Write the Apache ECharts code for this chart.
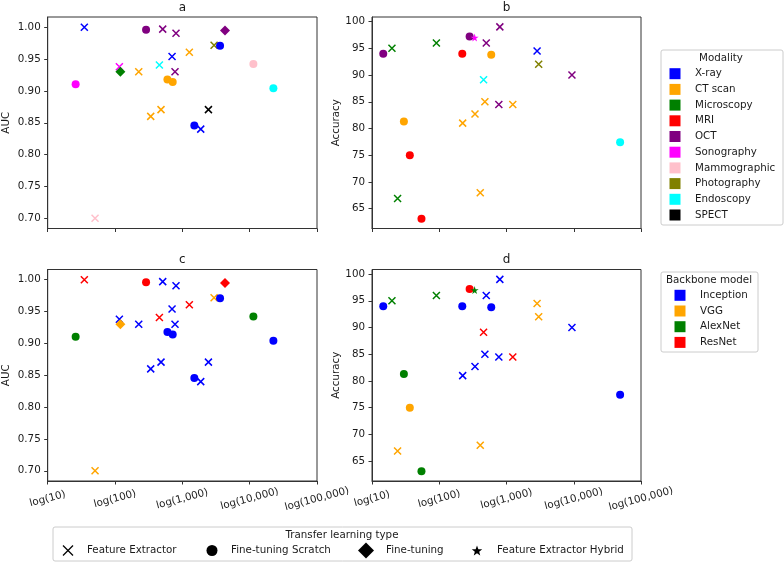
<!DOCTYPE html>
<html>
<head>
<meta charset="utf-8">
<script src="https://cdn.jsdelivr.net/npm/echarts@6/dist/echarts.min.js"></script>
<style>
html,body{margin:0;padding:0;background:#fff;}
#chart{width:784px;height:563px;}
</style>
</head>
<body>
<div id="chart"></div>
<script>
// ---------- DATA ----------
// Panels a & c : AUC vs dataset size (log)
const aucSize = [35, 289, 511, 805, 4300, 2960, 3630, 1270, 703, 456, 11350, 116, 120, 225, 778, 600, 719, 26, 22500, 2440, 482, 339, 1507, 1875, 50.5];
const aucValue = [1.000, 0.996, 0.997, 0.9905, 0.9947, 0.9717, 0.971, 0.9607, 0.954, 0.9408, 0.9423, 0.938, 0.930, 0.930, 0.930, 0.918, 0.914, 0.9105, 0.904, 0.8706, 0.8706, 0.860, 0.8455, 0.840, 0.700];
const aucModality = ['X-ray','OCT','OCT','OCT','OCT','Photography','X-ray','CT scan','X-ray','Endoscopy','Mammographic','Sonography','Microscopy','CT scan','OCT','CT scan','CT scan','Sonography','Endoscopy','SPECT','CT scan','CT scan','X-ray','X-ray','Mammographic'];
const aucBackbone = ['ResNet','ResNet','Inception','Inception','ResNet','VGG','Inception','ResNet','Inception','ResNet','AlexNet','Inception','VGG','Inception','Inception','Inception','Inception','AlexNet','Inception','Inception','Inception','Inception','Inception','Inception','VGG'];
const aucType = ['FE','FTS','FE','FE','FT','FE','FTS','FE','FE','FE','FTS','FE','FT','FE','FE','FTS','FTS','FTS','FTS','FE','FE','FE','FTS','FE','FE'];

// Panels b & d : Accuracy vs dataset size (log)
const accSize = [14.7, 19.8, 90.7, 283, 336, 796, 500, 220, 593, 2850, 3010, 9400, 456, 477, 769, 1240, 340, 223, 29.8, 48900, 36.5, 24, 407, 54.4];
const accValue = [94.0, 95.0, 96.0, 97.2, 97.0, 99.0, 96.0, 94.0, 93.8, 94.5, 92.0, 90.0, 89.1, 85.0, 84.5, 84.5, 82.7, 81.0, 81.3, 77.45, 75.0, 66.9, 68.0, 63.1];
const accModality = ['OCT','Microscopy','Microscopy','OCT','Sonography','OCT','OCT','MRI','CT scan','X-ray','Photography','OCT','Endoscopy','CT scan','OCT','CT scan','CT scan','CT scan','CT scan','Endoscopy','MRI','Microscopy','CT scan','MRI'];
const accBackbone = ['Inception','AlexNet','AlexNet','ResNet','AlexNet','Inception','Inception','Inception','Inception','VGG','VGG','Inception','ResNet','Inception','Inception','ResNet','Inception','Inception','AlexNet','Inception','VGG','VGG','VGG','AlexNet'];
const accType = ['FTS','FE','FE','FTS','FEH','FE','FE','FTS','FTS','FE','FE','FE','FE','FE','FE','FE','FE','FE','FTS','FTS','FTS','FE','FE','FTS'];

const xTicks = [10, 100, 1000, 10000, 100000];
const aucTicks = [0.70, 0.75, 0.80, 0.85, 0.90, 0.95, 1.00];
const accTicks = [65, 70, 75, 80, 85, 90, 95, 100];

const modalityNames = ['X-ray','CT scan','Microscopy','MRI','OCT','Sonography','Mammographic','Photography','Endoscopy','SPECT'];
const backboneNames = ['Inception','VGG','AlexNet','ResNet'];
const typeCodes = ['FE','FTS','FT','FEH'];
const typeNames = ['Feature Extractor','Fine-tuning Scratch','Fine-tuning','Feature Extractor Hybrid'];
const panelTitles = ['a','b','c','d'];

// ---------- STYLES ----------
const modalityColors = {'X-ray':'#0000ff','CT scan':'#ffa500','Microscopy':'#008000','MRI':'#ff0000','OCT':'#800080','Sonography':'#ff00ff','Mammographic':'#ffc0cb','Photography':'#808000','Endoscopy':'#00ffff','SPECT':'#000000'};
const backboneColors = {'Inception':'#0000ff','VGG':'#ffa500','AlexNet':'#008000','ResNet':'#ff0000'};
const STAR = 'path://M50,0L61,35L98,35L68,57L79,91L50,70L21,91L32,57L2,35L39,35Z';
const SYM = {
  FE:  {symbol:'path://M0,0L10,10M10,0L0,10', size:7, stroke:true},
  FTS: {symbol:'circle', size:8},
  FT:  {symbol:'diamond', size:10},
  FEH: {symbol:STAR, size:8}
};
const FONT = '"DejaVu Sans", sans-serif';
const TXT = '#1a1a1a';
const AX = '#333333';

function fmtLog(v){
  return 'log(' + String(Math.round(v)).replace(/\B(?=(\d{3})+(?!\d))/g, ',') + ')';
}

function buildSeries(xs, ys, cats, types, colorMap, gi){
  const data = xs.map((x, i) => {
    const c = colorMap[cats[i]];
    const s = SYM[types[i]];
    return {
      value: [x, ys[i]],
      symbol: s.symbol,
      symbolSize: s.size,
      itemStyle: s.stroke ? {color:'none', borderColor:c, borderWidth:1.5, opacity:1} : {color:c, borderWidth:0, opacity:1}
    };
  });
  return {type:'scatter', xAxisIndex:gi, yAxisIndex:gi, data, animation:false, silent:true,
    itemStyle:{opacity:1}, emphasis:{disabled:true}};
}

const grids = [
  {left:47.7, top:17, width:269.3, height:211.5},
  {left:372, top:17, width:269, height:211.5},
  {left:47.7, top:269.5, width:269.3, height:211.5},
  {left:372, top:269.5, width:269, height:211.5}
].map(g => Object.assign({show:true, borderColor:AX, borderWidth:1, backgroundColor:'transparent'}, g));

const xAxes = [0,1,2,3].map(i => ({
  type:'log', logBase:10, min:10, max:100000, gridIndex:i,
  axisLine:{show:true, lineStyle:{color:AX, width:1}},
  axisTick:{show:true, length:3.5, lineStyle:{color:AX, width:1}},
  minorTick:{show:false}, splitLine:{show:false}, minorSplitLine:{show:false},
  axisLabel:{show:i>=2, rotate:15, align:'center', verticalAlign:'middle', margin:18,
    fontSize:10.3, fontFamily:FONT, color:TXT, formatter:fmtLog, showMinLabel:true, showMaxLabel:true}
}));

function yAxis(i){
  const isAuc = (i % 2 === 0);
  const ticks = isAuc ? aucTicks : accTicks;
  return {
    type:'value', gridIndex:i,
    min: isAuc ? 0.684 : 61.3, max: isAuc ? 1.016 : 100.85,
    name: isAuc ? 'AUC' : 'Accuracy', nameLocation:'middle', nameGap: isAuc ? 36 : 30,
    nameTextStyle:{fontSize:10.3, fontFamily:FONT, color:TXT},
    axisLine:{show:true, lineStyle:{color:AX, width:1}},
    axisTick:{show:true, length:3.5, lineStyle:{color:AX, width:1}, customValues:ticks},
    splitLine:{show:false},
    axisLabel:{fontSize:10.3, fontFamily:FONT, color:TXT, margin:7, customValues:ticks,
      formatter: v => isAuc ? Number(v).toFixed(2) : String(Math.round(v))}
  };
}

const series = [
  buildSeries(aucSize, aucValue, aucModality, aucType, modalityColors, 0),
  buildSeries(accSize, accValue, accModality, accType, modalityColors, 1),
  buildSeries(aucSize, aucValue, aucBackbone, aucType, backboneColors, 2),
  buildSeries(accSize, accValue, accBackbone, accType, backboneColors, 3)
];

// ---------- GRAPHIC (titles + legends) ----------
function txt(text, x, y, align, size){
  return {type:'text', silent:true, style:{text, x, y, fill:TXT, font:(size||10.3)+'px '+FONT,
    textAlign:align||'left', align:align||'left', textVerticalAlign:'middle', verticalAlign:'middle'}};
}
const graphics = [];
grids.forEach((g, i) => {
  graphics.push(txt(panelTitles[i], g.left + g.width/2, g.top - 9.5, 'center', 12));
});
function box(x, y, w, h){
  return {type:'rect', silent:true, shape:{x, y, width:w, height:h, r:2},
    style:{fill:'rgba(255,255,255,0.8)', stroke:'#cccccc', lineWidth:1}};
}
// Modality legend
graphics.push(box(661, 50, 122, 175));
graphics.push(txt('Modality', 721, 58, 'center'));
modalityNames.forEach((n, i) => {
  const y = 73.7 + i*15.7;
  graphics.push({type:'rect', silent:true, shape:{x:669.5, y:y-5.5, width:11, height:11}, style:{fill:modalityColors[n]}});
  graphics.push(txt(n, 695, y, 'left'));
});
// Backbone legend
graphics.push(box(661, 272, 97, 80));
graphics.push(txt('Backbone model', 709, 280, 'center'));
backboneNames.forEach((n, i) => {
  const y = 295.3 + i*15.7;
  graphics.push({type:'rect', silent:true, shape:{x:674.5, y:y-5.5, width:11, height:11}, style:{fill:backboneColors[n]}});
  graphics.push(txt(n, 700, y, 'left'));
});
// Transfer learning type legend
graphics.push(box(53, 527, 579, 34));
graphics.push(txt('Transfer learning type', 342, 535, 'center'));
const ly = 550.5;
const markerX = [68, 212, 366, 477];
const textX = [87, 231, 386, 497];
typeCodes.forEach((code, i) => {
  const cx = markerX[i];
  if (code === 'FE') {
    graphics.push({type:'polyline', silent:true, shape:{points:[[cx-5,ly-5],[cx+5,ly+5]]}, style:{stroke:'#000', lineWidth:1.2, fill:null}});
    graphics.push({type:'polyline', silent:true, shape:{points:[[cx+5,ly-5],[cx-5,ly+5]]}, style:{stroke:'#000', lineWidth:1.2, fill:null}});
  } else if (code === 'FTS') {
    graphics.push({type:'circle', silent:true, shape:{cx, cy:ly, r:5.5}, style:{fill:'#000'}});
  } else if (code === 'FT') {
    graphics.push({type:'polygon', silent:true, shape:{points:[[cx,ly-8],[cx+8,ly],[cx,ly+8],[cx-8,ly]]}, style:{fill:'#000'}});
  } else {
    const pts = [];
    for (let k = 0; k < 10; k++) {
      const r = (k % 2 === 0) ? 5.5 : 2.3;
      const a = -Math.PI/2 + k*Math.PI/5;
      pts.push([cx + r*Math.cos(a), ly + 0.5 + r*Math.sin(a)]);
    }
    graphics.push({type:'polygon', silent:true, shape:{points:pts}, style:{fill:'#000'}});
  }
  graphics.push(txt(typeNames[i], textX[i], ly, 'left'));
});

const chart = echarts.init(document.getElementById('chart'), null, {renderer:'canvas'});
chart.setOption({
  animation:false,
  backgroundColor:'#ffffff',
  textStyle:{fontFamily:FONT},
  grid:grids,
  xAxis:xAxes,
  yAxis:[0,1,2,3].map(yAxis),
  series,
  graphic:{elements:graphics}
});
</script>
</body>
</html>
